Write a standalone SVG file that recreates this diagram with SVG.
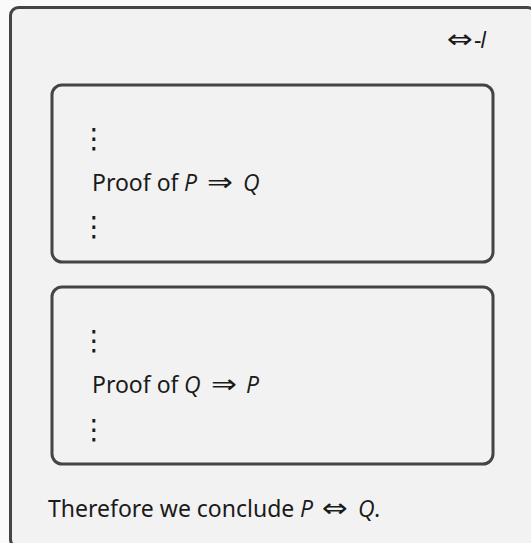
<svg xmlns="http://www.w3.org/2000/svg" width="531" height="543" viewBox="0 0 531 543">
<style>
.box{fill:#f2f2f2;stroke:#444;stroke-width:3}
.t{font-family:"Noto Sans","Open Sans",sans-serif;font-size:23px;fill:#1a1a1a}
.m{font-style:italic;font-family:"Open Sans","Noto Sans",sans-serif}
.a{font-family:"DejaVu Sans",sans-serif;font-size:26px}
.d{font-family:"Noto Sans CJK JP","DejaVu Sans",sans-serif;font-size:28px;fill:#1a1a1a}
</style>
<rect width="531" height="543" fill="#fafafa"/>
<g id="outer">
<rect class="box" x="10.5" y="7.5" width="525" height="540" rx="8"/>
<text class="t" y="48"><tspan class="a" x="447" textLength="26" lengthAdjust="spacingAndGlyphs">⇔</tspan><tspan x="474">-</tspan><tspan class="m" x="480">I</tspan></text>
</g>
<g id="proof1">
<rect class="box" x="52" y="85" width="441" height="177" rx="10"/>
<text class="d" x="80" y="148">⋮</text>
<text class="t" y="191"><tspan x="92">Proof of</tspan><tspan class="m" x="184">P</tspan><tspan class="a" x="207" textLength="26" lengthAdjust="spacingAndGlyphs">⇒</tspan><tspan class="m" x="243">Q</tspan></text>
<text class="d" x="80" y="236">⋮</text>
</g>
<g id="proof2">
<rect class="box" x="52" y="287" width="441" height="177" rx="10"/>
<text class="d" x="80" y="350">⋮</text>
<text class="t" y="393"><tspan x="92">Proof of</tspan><tspan class="m" x="184">Q</tspan><tspan class="a" x="211" textLength="26" lengthAdjust="spacingAndGlyphs">⇒</tspan><tspan class="m" x="246">P</tspan></text>
<text class="d" x="80" y="439">⋮</text>
</g>
<g id="conclusion">
<text class="t" y="517"><tspan x="48">Therefore we conclude</tspan><tspan class="m" x="300">P</tspan><tspan class="a" x="322" textLength="26" lengthAdjust="spacingAndGlyphs">⇔</tspan><tspan class="m" x="358">Q</tspan><tspan x="374">.</tspan></text>
</g>
<g id="connectors"/>
</svg>
